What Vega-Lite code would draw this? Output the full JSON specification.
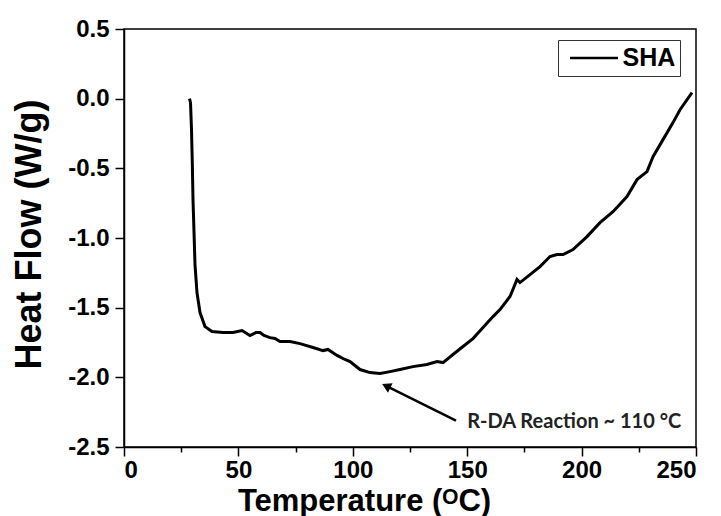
{
  "$schema": "https://vega.github.io/schema/vega-lite/v6.json",
  "width": 572,
  "height": 418,
  "autosize": {"type": "none"},
  "padding": {"left": 124, "top": 29, "right": 25, "bottom": 69},
  "background": "white",
  "config": {
    "view": {"stroke": "black", "strokeWidth": 1.5},
    "axis": {
      "grid": false,
      "domainColor": "black",
      "domainWidth": 1.5,
      "tickColor": "black",
      "tickWidth": 1.5,
      "labelColor": "black",
      "labelFont": "Liberation Sans",
      "labelFontWeight": "bold",
      "titleColor": "black",
      "titleFont": "Liberation Sans",
      "titleFontWeight": "bold"
    },
    "legend": {
      "orient": "none",
      "legendX": 434,
      "legendY": 11,
      "title": null,
      "symbolType": "M-0.5,0H3.5",
      "symbolSize": 576,
      "symbolStrokeWidth": 2.5,
      "symbolStrokeColor": "black",
      "symbolFillColor": "transparent",
      "labelFont": "Liberation Sans",
      "labelFontWeight": "bold",
      "labelFontSize": 25,
      "labelColor": "black",
      "labelOffset": 33,
      "strokeColor": "#333333",
      "fillColor": "white",
      "padding": 4.5
    }
  },
  "datasets": {
    "curve": [
      {"temperature": 28.63, "heat": 0.0, "series": "SHA"},
      {"temperature": 29.07, "heat": -0.029, "series": "SHA"},
      {"temperature": 29.5, "heat": -0.222, "series": "SHA"},
      {"temperature": 29.85, "heat": -0.459, "series": "SHA"},
      {"temperature": 30.16, "heat": -0.725, "series": "SHA"},
      {"temperature": 30.59, "heat": -0.954, "series": "SHA"},
      {"temperature": 31.03, "heat": -1.191, "series": "SHA"},
      {"temperature": 31.9, "heat": -1.392, "series": "SHA"},
      {"temperature": 33.22, "heat": -1.535, "series": "SHA"},
      {"temperature": 35.4, "heat": -1.636, "series": "SHA"},
      {"temperature": 38.46, "heat": -1.671, "series": "SHA"},
      {"temperature": 43.27, "heat": -1.678, "series": "SHA"},
      {"temperature": 47.64, "heat": -1.678, "series": "SHA"},
      {"temperature": 51.57, "heat": -1.664, "series": "SHA"},
      {"temperature": 55.07, "heat": -1.7, "series": "SHA"},
      {"temperature": 57.69, "heat": -1.678, "series": "SHA"},
      {"temperature": 59.44, "heat": -1.678, "series": "SHA"},
      {"temperature": 61.19, "heat": -1.7, "series": "SHA"},
      {"temperature": 63.81, "heat": -1.715, "series": "SHA"},
      {"temperature": 66.0, "heat": -1.721, "series": "SHA"},
      {"temperature": 68.18, "heat": -1.743, "series": "SHA"},
      {"temperature": 72.55, "heat": -1.743, "series": "SHA"},
      {"temperature": 76.92, "heat": -1.758, "series": "SHA"},
      {"temperature": 82.6, "heat": -1.786, "series": "SHA"},
      {"temperature": 86.98, "heat": -1.808, "series": "SHA"},
      {"temperature": 89.16, "heat": -1.8, "series": "SHA"},
      {"temperature": 93.09, "heat": -1.843, "series": "SHA"},
      {"temperature": 96.59, "heat": -1.872, "series": "SHA"},
      {"temperature": 98.78, "heat": -1.887, "series": "SHA"},
      {"temperature": 103.15, "heat": -1.944, "series": "SHA"},
      {"temperature": 107.52, "heat": -1.966, "series": "SHA"},
      {"temperature": 111.89, "heat": -1.973, "series": "SHA"},
      {"temperature": 116.26, "heat": -1.959, "series": "SHA"},
      {"temperature": 120.63, "heat": -1.944, "series": "SHA"},
      {"temperature": 126.31, "heat": -1.923, "series": "SHA"},
      {"temperature": 132.43, "heat": -1.908, "series": "SHA"},
      {"temperature": 136.8, "heat": -1.887, "series": "SHA"},
      {"temperature": 139.42, "heat": -1.894, "series": "SHA"},
      {"temperature": 143.79, "heat": -1.836, "series": "SHA"},
      {"temperature": 148.16, "heat": -1.779, "series": "SHA"},
      {"temperature": 152.53, "heat": -1.722, "series": "SHA"},
      {"temperature": 156.91, "heat": -1.643, "series": "SHA"},
      {"temperature": 161.28, "heat": -1.564, "series": "SHA"},
      {"temperature": 164.34, "heat": -1.514, "series": "SHA"},
      {"temperature": 168.71, "heat": -1.42, "series": "SHA"},
      {"temperature": 171.77, "heat": -1.298, "series": "SHA"},
      {"temperature": 173.08, "heat": -1.32, "series": "SHA"},
      {"temperature": 177.45, "heat": -1.263, "series": "SHA"},
      {"temperature": 181.82, "heat": -1.205, "series": "SHA"},
      {"temperature": 186.19, "heat": -1.133, "series": "SHA"},
      {"temperature": 189.25, "heat": -1.119, "series": "SHA"},
      {"temperature": 191.87, "heat": -1.119, "series": "SHA"},
      {"temperature": 196.24, "heat": -1.083, "series": "SHA"},
      {"temperature": 202.36, "heat": -0.99, "series": "SHA"},
      {"temperature": 208.04, "heat": -0.89, "series": "SHA"},
      {"temperature": 213.72, "heat": -0.811, "series": "SHA"},
      {"temperature": 219.84, "heat": -0.703, "series": "SHA"},
      {"temperature": 224.21, "heat": -0.581, "series": "SHA"},
      {"temperature": 228.58, "heat": -0.524, "series": "SHA"},
      {"temperature": 231.21, "heat": -0.416, "series": "SHA"},
      {"temperature": 235.58, "heat": -0.294, "series": "SHA"},
      {"temperature": 239.95, "heat": -0.172, "series": "SHA"},
      {"temperature": 243.01, "heat": -0.079, "series": "SHA"},
      {"temperature": 248.25, "heat": 0.043, "series": "SHA"}
    ],
    "arrow": [{"temperature": 145.1, "heat": -2.31, "temperature2": 115.2, "heat2": -2.067}],
    "head": [{"temperature": 115.2, "heat": -2.067}],
    "note": [{"temperature": 150.0, "heat": -2.317, "label": "R-DA Reaction ~ 110 °C"}]
  },
  "layer": [
    {
      "data": {"name": "curve"},
      "mark": {"type": "line", "strokeWidth": 3},
      "encoding": {
        "x": {
          "field": "temperature",
          "type": "quantitative",
          "scale": {"domain": [0, 250], "nice": false, "zero": false},
          "axis": {
            "title": "Temperature (ᴼC)",
            "titleFontSize": 31,
            "titleAlign": "center",
            "titleBaseline": "alphabetic",
            "titleX": 240,
            "titleY": 63,
            "values": [0, 25, 50, 75, 100, 125, 150, 175, 200, 225, 250],
            "labelExpr": "datum.value % 50 === 0 ? datum.label : ''",
            "labelFontSize": 24,
            "labelPadding": 2,
            "tickSize": {"condition": {"test": "datum.value % 50 === 0", "value": 9}, "value": 5}
          }
        },
        "y": {
          "field": "heat",
          "type": "quantitative",
          "scale": {"domain": [-2.5, 0.5], "nice": false, "zero": false},
          "axis": {
            "title": "Heat Flow (W/g)",
            "titleFontSize": 36,
            "titleBaseline": "alphabetic",
            "titleX": -84,
            "titleY": 205,
            "values": [-2.5, -2.25, -2, -1.75, -1.5, -1.25, -1, -0.75, -0.5, -0.25, 0, 0.25, 0.5],
            "labelExpr": "abs(datum.value*2 - round(datum.value*2)) < 0.001 ? replace(format(datum.value, '.1f'), '−', '-') : ''",
            "labelFontSize": 24,
            "labelPadding": 6,
            "tickSize": {"condition": {"test": "abs(datum.value*2 - round(datum.value*2)) < 0.001", "value": 9}, "value": 5}
          }
        },
        "color": {
          "field": "series",
          "type": "nominal",
          "scale": {"range": ["black"]}
        }
      }
    },
    {
      "data": {"name": "arrow"},
      "mark": {"type": "rule", "strokeWidth": 2.5, "color": "black"},
      "encoding": {
        "x": {"field": "temperature", "type": "quantitative"},
        "y": {"field": "heat", "type": "quantitative"},
        "x2": {"field": "temperature2"},
        "y2": {"field": "heat2"}
      }
    },
    {
      "data": {"name": "head"},
      "mark": {"type": "point", "shape": "triangle", "filled": true, "color": "black", "opacity": 1, "size": 110, "angle": 296},
      "encoding": {
        "x": {"field": "temperature", "type": "quantitative"},
        "y": {"field": "heat", "type": "quantitative"}
      }
    },
    {
      "data": {"name": "note"},
      "mark": {"type": "text", "align": "left", "baseline": "middle", "font": "Lato", "fontSize": 20, "fontWeight": "bold", "color": "#222222"},
      "encoding": {
        "x": {"field": "temperature", "type": "quantitative"},
        "y": {"field": "heat", "type": "quantitative"},
        "text": {"field": "label"}
      }
    }
  ]
}
